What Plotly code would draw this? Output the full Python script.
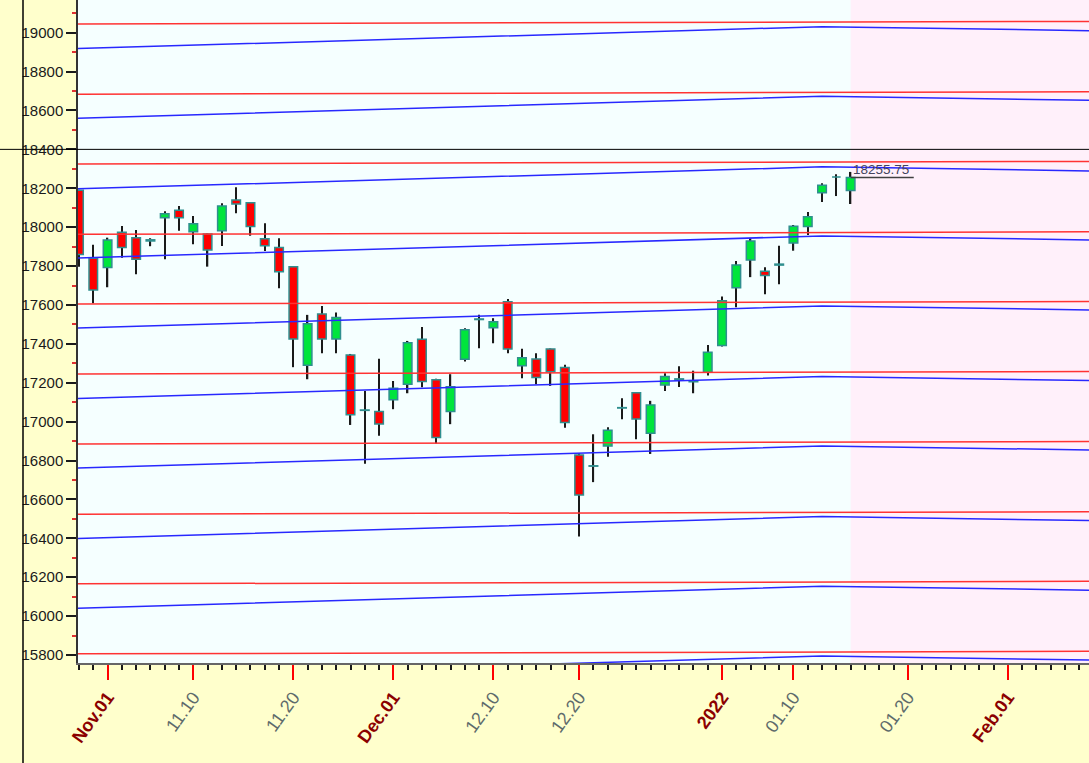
import plotly.graph_objects as go

# ---------------- data ----------------
dates = [
    "2021-10-28", "2021-10-29",
    "2021-11-01", "2021-11-02", "2021-11-03", "2021-11-04", "2021-11-08", "2021-11-09",
    "2021-11-10", "2021-11-11", "2021-11-12", "2021-11-15", "2021-11-16", "2021-11-17",
    "2021-11-18", "2021-11-22", "2021-11-23", "2021-11-24", "2021-11-25", "2021-11-26",
    "2021-11-29", "2021-11-30",
    "2021-12-01", "2021-12-02", "2021-12-03", "2021-12-06", "2021-12-07", "2021-12-08",
    "2021-12-09", "2021-12-10", "2021-12-13", "2021-12-14", "2021-12-15", "2021-12-16",
    "2021-12-17", "2021-12-20", "2021-12-21", "2021-12-22", "2021-12-23", "2021-12-24",
    "2021-12-27", "2021-12-28", "2021-12-29", "2021-12-30", "2021-12-31",
    "2022-01-03", "2022-01-04", "2022-01-05", "2022-01-06", "2022-01-07", "2022-01-10",
    "2022-01-11", "2022-01-12", "2022-01-13", "2022-01-14",
]
opens = [
    18190, 17840,
    17792, 17974, 17946, 17935, 18049, 18087,
    17977, 17965, 17982, 18140, 18126, 17940,
    17895, 17797, 17290, 17554, 17425, 17343,
    17060, 17052,
    17112, 17192, 17424, 17215, 17052, 17321,
    17528, 17483, 17617, 17288, 17322, 17374,
    17278, 16829, 16773, 16875, 17070, 17149,
    16940, 17189, 17220, 17210, 17254,
    17391, 17689, 17831, 17773, 17805, 17919,
    18003, 18177, 18258, 18188,
]
highs = [
    18192, 17909,
    17946, 18006, 17986, 17943, 18082, 18109,
    18058, 17968, 18123, 18205, 18128, 18020,
    17943, 17800, 17549, 17595, 17561, 17348,
    17158, 17324,
    17209, 17415, 17486, 17220, 17244, 17480,
    17549, 17532, 17631, 17375, 17352, 17376,
    17292, 16838, 16935, 16971, 17120, 17152,
    17107, 17249, 17285, 17262, 17394,
    17643, 17826, 17943, 17794, 17904, 18011,
    18078, 18226, 18272, 18284,
]
lows = [
    17797, 17609,
    17691, 17843, 17758, 17902, 17835, 17982,
    17912, 17797, 17903, 18072, 17956, 17878,
    17686, 17280, 17218, 17352, 17352, 16983,
    16783, 16928,
    17064, 17146, 17177, 16887, 16987, 17309,
    17378, 17403, 17352, 17223, 17192, 17184,
    16969, 16409, 16689, 16820, 17012, 16910,
    16834, 17158, 17178, 17146, 17237,
    17386, 17588, 17743, 17655, 17706, 17879,
    17960, 18130, 18160, 18119,
]
closes = [
    17860, 17677,
    17934, 17895, 17835, 17929, 18069, 18049,
    18018, 17883, 18109, 18119, 18003, 17905,
    17771, 17425, 17503, 17425, 17535, 17035,
    17058, 16988,
    17172, 17406, 17206, 16918, 17180, 17472,
    17525, 17514, 17374, 17329, 17227, 17257,
    16995, 16623, 16771, 16956, 17072, 17014,
    17086, 17232, 17214, 17205, 17357,
    17622, 17806, 17929, 17751, 17810, 18005,
    18054, 18215, 18258, 18255.75,
]
last_close_label = "18255.75"

holidays = ["2021-11-05", "2021-11-19", "2022-01-26"]

# guide lines (red: nearly flat; blue: rise to mid-Jan, then ease down)
red_dates = ["2021-10-27", "2022-02-09"]
red_lines = [
    [19045, 19058], [18683, 18696], [18325, 18338], [17963, 17976], [17605, 17618],
    [17245, 17258], [16885, 16898], [16524, 16537], [16166, 16179], [15806, 15819],
]
blue_dates = ["2021-10-27", "2022-01-12", "2022-02-09"]
blue_lines = [
    [18916, 19031, 19010], [18558, 18673, 18652], [18195, 18310, 18289],
    [17840, 17955, 17934], [17480, 17595, 17574], [17117, 17232, 17211],
    [16760, 16875, 16854], [16397, 16512, 16491], [16039, 16154, 16133],
    [15680, 15795, 15774],
]

# axis ticks: dates that fall on a closed day are placed at the close of the
# last session before them (the gap boundary on a trading-day axis)
tick_dates = ["2021-11-01", "2021-11-10", "2021-11-18 23:59:59", "2021-12-01",
              "2021-12-10", "2021-12-20", "2021-12-31 23:59:59", "2022-01-10",
              "2022-01-20", "2022-02-01"]
tick_labels = ["Nov.01", "11.10", "11.20", "Dec.01", "12.10",
               "12.20", "2022", "01.10", "01.20", "Feb.01"]
tick_is_major = [True, False, False, True, False, False, True, False, False, True]

x_start = "2021-10-27 22:20"
x_end = "2022-02-08 16:20"
future_start = "2022-01-14"
label_line_end = "2022-01-20 10:00"
y_range = [15759, 19168]
cross_level = 18400

# ---------------- styles ----------------
PAPER = "#FFFFCC"
PLOT = "#F5FFFF"
PINK = "#FFF0FA"
GREEN = "#00E53C"
RED = "#FF0000"
EDGE = "#2F8F8F"
FONT = "Arial, Liberation Sans, sans-serif"
DAY_MS = 86400000

fig = go.Figure()

# wicks (thin bars from low to high, drawn beneath the bodies)
fig.add_trace(go.Bar(x=dates, y=[h - l for h, l in zip(highs, lows)], base=lows,
                     width=0.095 * DAY_MS,
                     marker=dict(color="#1a1a1a", line=dict(width=0)),
                     hoverinfo="skip", showlegend=False))

# bodies
base = [min(o, c) for o, c in zip(opens, closes)]
size = [abs(c - o) for o, c in zip(opens, closes)]
colors = [GREEN if c >= o else RED for o, c in zip(opens, closes)]
fig.add_trace(go.Bar(x=dates, y=size, base=base, width=0.6 * DAY_MS,
                     marker=dict(color=colors, line=dict(color=EDGE, width=1.5)),
                     showlegend=False,
                     customdata=list(zip(opens, highs, lows, closes)),
                     hovertemplate="%{x}<br>O %{customdata[0]}<br>H %{customdata[1]}"
                                   "<br>L %{customdata[2]}<br>C %{customdata[3]}<extra></extra>"))

# guide lines
for vals in red_lines:
    fig.add_trace(go.Scatter(x=red_dates, y=vals, mode="lines",
                             line=dict(color="#FF3333", width=1.5),
                             hoverinfo="skip", showlegend=False))
for vals in blue_lines:
    fig.add_trace(go.Scatter(x=blue_dates, y=vals, mode="lines",
                             line=dict(color="#2828FF", width=1.5),
                             hoverinfo="skip", showlegend=False))

# future (pink) zone
fig.add_shape(type="rect", xref="x", yref="paper", x0=future_start, x1=x_end,
              y0=0, y1=1, fillcolor=PINK, line=dict(width=0), layer="below")

# last close marker
fig.add_shape(type="line", xref="x", yref="y", x0=future_start, x1=label_line_end,
              y0=closes[-1], y1=closes[-1], line=dict(color="#404040", width=1.5))
fig.add_annotation(x=future_start, y=closes[-1], xref="x", yref="y",
                   text=last_close_label, showarrow=False, xanchor="left",
                   yanchor="bottom", xshift=0, yshift=-2,
                   font=dict(family=FONT, size=13.5, color="#44445e"))

# crosshair style lines
plot_w = 1089 - 78
plot_h = 663
fig.add_shape(type="line", xref="paper", yref="y", x0=-78 / plot_w, x1=1,
              y0=cross_level, y1=cross_level, line=dict(color="#000000", width=1))
fig.add_shape(type="line", xref="paper", yref="paper",
              x0=(23 - 78) / plot_w, x1=(23 - 78) / plot_w,
              y0=-100 / plot_h, y1=1.02, line=dict(color="#000000", width=1.5))

ticktext = [
    f"<b><span style='color:#8B0000'>{t}</span></b>" if m
    else f"<span style='color:#5E6B6B'>{t}</span>"
    for t, m in zip(tick_labels, tick_is_major)
]

fig.update_layout(
    width=1089, height=763,
    margin=dict(l=78, r=0, t=0, b=100, autoexpand=False),
    paper_bgcolor=PAPER, plot_bgcolor=PLOT,
    showlegend=False, barmode="overlay",
    font=dict(family=FONT, size=15, color="#1a1a1a"),
    xaxis=dict(
        type="date", range=[x_start, x_end],
        rangebreaks=[dict(bounds=["sat", "mon"]), dict(values=holidays)],
        tickmode="array", tickvals=tick_dates, ticktext=ticktext,
        tickangle=-54, ticks="outside", ticklen=15, tickwidth=1.5, tickcolor="#FF0000",
        tickfont=dict(family=FONT, size=18),
        minor=dict(dtick=DAY_MS, ticks="outside", ticklen=5, tickwidth=1.5,
                   tickcolor="#1a1a1a", showgrid=False),
        showgrid=False, zeroline=False,
        showline=True, linecolor="#666666", linewidth=1.5,
        fixedrange=True,
    ),
    yaxis=dict(
        range=y_range, tickmode="linear", tick0=15800, dtick=200, tickformat="d",
        ticks="outside", ticklen=10, tickwidth=2, tickcolor="#1a1a1a",
        tickfont=dict(family=FONT, size=15, color="#1a1a1a"),
        minor=dict(dtick=100, ticks="outside", ticklen=4, tickwidth=1.5,
                   tickcolor="#E03030", showgrid=False),
        showgrid=False, zeroline=False,
        showline=True, linecolor="#333333", linewidth=1.5,
        fixedrange=True,
    ),
)

fig.write_html("out.html", config={"displayModeBar": False},
               post_script="document.body.style.margin='0px';")
